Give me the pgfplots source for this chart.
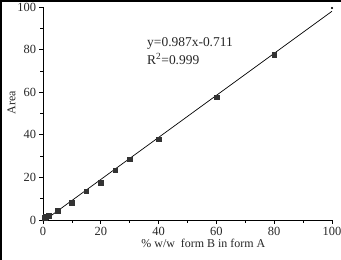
\documentclass[border=0pt]{standalone}
\usepackage{pgfplots}
\pgfplotsset{compat=1.18}
\usepackage{fontspec}
\setmainfont{Liberation Serif}
\begin{document}
\begin{tikzpicture}
\path[use as bounding box] (-43bp,-40bp) rectangle (298bp,220bp);
\draw[line width=2bp, black] (-42bp,-40bp) -- (-42bp,219bp) -- (298bp,219bp);
\begin{axis}[
  name=ax,
  at={(0,0)}, anchor=south west,
  scale only axis,
  width=289bp, height=213bp,
  xmin=0, xmax=100, ymin=0, ymax=100,
  axis x line*=bottom, axis y line*=left,
  axis line style={black, line width=0.8pt, -},
  xtick={0,20,...,100}, ytick={0,20,...,100},
  minor xtick={10,30,50,70,90}, minor ytick={10,30,50,70,90},
  tick align=outside,
  major tick length=3.5bp, minor tick length=2.5bp,
  tick style={black, line width=0.7pt},
  /pgf/number format/assume math mode=true,
  ticklabel style={font=\fontsize{12.5}{14}\selectfont, text=black!85},
  xlabel={\% w/w\ \ form B in form A},
  ylabel={Area},
  label style={font=\fontsize{12}{14}\selectfont, text=black!85},
  xlabel style={at={(rel axis cs:0.555,0)}, anchor=north, yshift=-16bp},
  ylabel style={at={(rel axis cs:0,0.55)}, anchor=south, yshift=24bp},
  clip=false,
]
\addplot[black, line width=0.7pt] coordinates {(0,-0.711) (100,98.0)};
\addplot[only marks, mark=square*, mark size=2.3bp, mark options={fill=black!80, draw=black!80}] coordinates {
 (0.5,1.2) (1,1.5) (2,2.0) (5,4.5) (10,8.0) (15,13.5) (20,17.6) (25,23.4) (30,28.5) (40,38.0) (60,57.6) (80,77.6)
};
\addplot[only marks, mark=*, mark size=0.9bp, black] coordinates {(100,99.5)};
\node[anchor=west, font=\fontsize{13.5}{15}\selectfont, text=black!85, inner sep=0pt] at (axis cs:36,83) {y=0.987x-0.711};
\node[anchor=west, font=\fontsize{13.5}{15}\selectfont, text=black!85, inner sep=0pt] at (axis cs:36,75.5) {R\textsuperscript{2}=0.999};
\end{axis}
\end{tikzpicture}
\end{document}
